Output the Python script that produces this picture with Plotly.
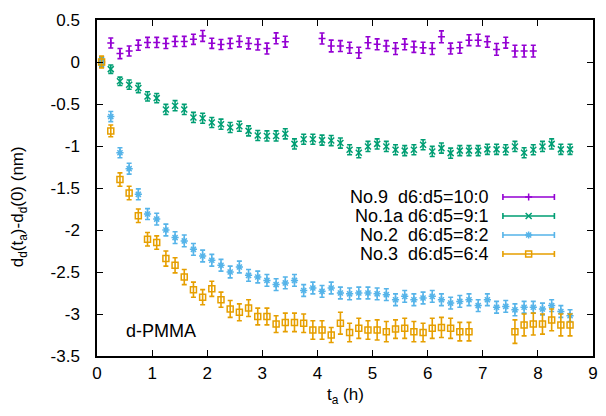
import plotly.graph_objects as go

# ---------------- data ----------------
minutes = [5, 15, 25, 35, 45, 55, 65, 75, 85, 95, 105, 115, 125, 135, 145, 155, 165, 175,
           185, 195, 205, 215, 225, 235, 245, 255, 265, 275, 285, 295, 305, 315, 325, 335,
           345, 355, 365, 375, 385, 395, 405, 415, 425, 435, 445, 455, 465, 475, 485, 495,
           505, 515]
hours = [m / 60 for m in minutes]

no9 = [0.0, 0.226, 0.100, 0.131, 0.200, 0.233, 0.233, 0.221, 0.245, 0.245, 0.270, 0.310,
       0.222, 0.208, 0.221, 0.245, 0.221, 0.208, 0.160, 0.282, 0.242,
       None, None, None,
       0.28, 0.19, 0.19, 0.17, 0.11, 0.23, 0.21, 0.19, 0.16, 0.21, 0.18, 0.17, 0.16, 0.30,
       0.16, 0.17, 0.26, 0.26, 0.24, 0.15, 0.23, 0.13, 0.13, 0.13,
       None, None, None, None]
no9_err = [0.06, 0.06, 0.06, 0.06, 0.06, 0.06, 0.06, 0.06, 0.06, 0.06, 0.06,
           0.065, 0.06, 0.06, 0.06, 0.065, 0.065, 0.065, 0.065, 0.065, 0.065,
           0.065, 0.065, 0.065, 0.065, 0.07, 0.065, 0.065, 0.065, 0.07, 0.065,
           0.065, 0.07, 0.065, 0.065, 0.065, 0.07, 0.07, 0.065, 0.065, 0.065,
           0.07, 0.065, 0.07, 0.065, 0.07, 0.07, 0.07, 0.07, 0.07, 0.07, 0.07]

no1a = [0.0, -0.085, -0.23, -0.27, -0.31, -0.41, -0.43, -0.565, -0.52, -0.565, -0.66,
        -0.67, -0.72, -0.74, -0.78, -0.765, -0.82, -0.875, -0.88, -0.88, -0.855, -0.975,
        -0.92, -0.92, -0.93, -0.935, -0.965, -1.045, -1.08, -1.005, -0.975, -1.005, -1.045,
        -1.055, -1.045, -0.985, -1.065, -1.025, -1.085, -1.055, -1.055, -1.055, -1.04,
        -1.04, -1.045, -1.005, -1.08, -1.045, -1.005, -0.975, -1.04, -1.04]
no1a_err = [0.05, 0.05, 0.05, 0.055, 0.055, 0.055, 0.055, 0.06, 0.06, 0.06, 0.06, 0.06,
            0.06, 0.06, 0.06, 0.06, 0.06, 0.06, 0.06, 0.06, 0.06, 0.06, 0.06, 0.06, 0.06,
            0.06, 0.06, 0.06, 0.06, 0.06, 0.06, 0.06, 0.06, 0.06, 0.06, 0.06, 0.06, 0.06,
            0.06, 0.06, 0.06, 0.06, 0.06, 0.06, 0.06, 0.06, 0.06, 0.06, 0.06, 0.06, 0.06,
            0.06]

no2 = [0.0, -0.65, -1.08, -1.27, -1.575, -1.81, -1.87, -2.0, -2.09, -2.13, -2.23, -2.31,
       -2.36, -2.42, -2.50, -2.44, -2.54, -2.56, -2.60, -2.65, -2.63, -2.60,
       -2.72, -2.69, -2.73, -2.69, -2.75, -2.76, -2.75, -2.75, -2.76, -2.77, -2.83, -2.79,
       -2.83, -2.81, -2.79, -2.83, -2.87, -2.85, -2.83, -2.90, -2.83, -2.92, -2.91, -2.95,
       -2.92, -2.92, -2.94, -2.90, -2.97, -3.02]
no2_err = [0.06, 0.06, 0.06, 0.065, 0.065, 0.065, 0.07, 0.07, 0.07, 0.07, 0.07, 0.07,
           0.07, 0.07, 0.07, 0.07, 0.07, 0.07, 0.07, 0.07, 0.07, 0.07, 0.07, 0.07, 0.07,
           0.07, 0.07, 0.07, 0.07, 0.07, 0.07, 0.07, 0.07, 0.07, 0.07, 0.07, 0.07, 0.07,
           0.07, 0.07, 0.07, 0.07, 0.07, 0.07, 0.07, 0.07, 0.07, 0.07, 0.07, 0.07, 0.07,
           0.07]

no3 = [0.0, -0.82, -1.40, -1.56, -1.83, -2.11, -2.15, -2.34, -2.42, -2.56, -2.71, -2.80,
       -2.70, -2.83, -2.94, -2.98, -2.93, -3.03, -3.03, -3.12, -3.10, -3.10,
       -3.11, -3.19, -3.19, -3.25, -3.11, -3.22, -3.17, -3.19, -3.19, -3.21, -3.18, -3.17,
       -3.21, -3.22, -3.17, -3.16, -3.17, -3.21, -3.21,
       None, None, None, None,
       -3.21, -3.13, -3.12, -3.12, -3.07, -3.13, -3.13]
no3_err = [0.07, 0.07, 0.08, 0.08, 0.08, 0.08, 0.08, 0.09, 0.09, 0.09, 0.09, 0.09, 0.09,
           0.09, 0.1, 0.1, 0.1, 0.1, 0.1, 0.1, 0.11, 0.11, 0.11, 0.11, 0.11, 0.09, 0.13,
           0.11, 0.12, 0.11, 0.12, 0.12, 0.11, 0.12, 0.12, 0.11, 0.12, 0.12, 0.12, 0.11,
           0.11, 0.11, 0.11, 0.11, 0.11, 0.14, 0.13, 0.13, 0.12, 0.13, 0.13, 0.13]

labels = ["No.9  d6:d5=10:0", "No.1a d6:d5=9:1", "No.2  d6:d5=8:2", "No.3  d6:d5=6:4"]
series = [no9, no1a, no2, no3]
errors = [no9_err, no1a_err, no2_err, no3_err]

x_ticks = [0, 1, 2, 3, 4, 5, 6, 7, 8, 9]
y_ticks = [-3.5, -3, -2.5, -2, -1.5, -1, -0.5, 0, 0.5]
y_ticklabels = ["-3.5", "-3", "-2.5", "-2", "-1.5", "-1", "-0.5", "0", "0.5"]

# ---------------- style ----------------
colors = ["#9400D3", "#009E73", "#56B4E9", "#E69F00"]
symbols = ["cross-thin", "x-thin", "asterisk-open", "square-open"]
msizes = [5, 6, 6, 6]
FONT = "Liberation Sans, Arial, Helvetica, sans-serif"

W, H = 606, 416
L, R, T, B = 97, 8, 20, 60
PW, PH = W - L - R, H - T - B

fig = go.Figure()

for vals, errs, col, sym, ms in zip(series, errors, colors, symbols, msizes):
    fig.add_trace(go.Scatter(
        x=hours, y=vals, mode="markers",
        marker=dict(symbol=sym, size=ms, color=col, line=dict(width=1.5, color=col)),
        error_y=dict(type="data", array=errs, visible=True, color=col,
                     thickness=1.6, width=2.5),
        showlegend=False, hoverinfo="skip"))

# custom gnuplot-style key (text right aligned, sample on the right)
key_text_x = (495 - L) / PW
key_sample_x = (533 - L) / PW
key_half = 26 / PW
key_rows_px = [197, 216, 235, 254]
for lab, col, sym, ms, ypx in zip(labels, colors, symbols, msizes, key_rows_px):
    yf = (H - B - ypx) / PH
    fig.add_trace(go.Scatter(
        x=[key_sample_x], y=[yf], mode="markers", xaxis="x2", yaxis="y2",
        marker=dict(symbol=sym, size=ms, color=col, line=dict(width=1.5, color=col)),
        error_x=dict(type="data", array=[key_half], visible=True, color=col,
                     thickness=1.6, width=3),
        showlegend=False, hoverinfo="skip"))
    fig.add_annotation(x=key_text_x, y=yf, xref="paper", yref="paper",
                       text=lab.replace("  ", "&nbsp;&nbsp;"), showarrow=False,
                       xanchor="right", yanchor="middle",
                       font=dict(family=FONT, size=18, color="black"))

fig.add_annotation(x=(124 - L) / PW, y=(H - B - 331) / PH,
                   xref="paper", yref="paper", text="d-PMMA", showarrow=False,
                   xanchor="left", yanchor="middle",
                   font=dict(family=FONT, size=18, color="black"))

fig.add_annotation(x=(19 - L) / PW, y=0.445, xref="paper", yref="paper",
                   text="d<sub>d</sub>(t<sub>a</sub>)-d<sub>d</sub>(0) (nm)",
                   showarrow=False, textangle=-90, xanchor="center", yanchor="middle",
                   font=dict(family=FONT, size=17, color="black"))
fig.add_annotation(x=0.5, y=(H - B - 396) / PH, xref="paper", yref="paper",
                   text="t<sub>a</sub> (h)", showarrow=False,
                   xanchor="center", yanchor="middle",
                   font=dict(family=FONT, size=17, color="black"))

axis_common = dict(showgrid=False, zeroline=False, showline=True, linecolor="black",
                   linewidth=1.5, ticks="inside", ticklen=6, tickwidth=1.2,
                   tickcolor="black", mirror="allticks",
                   tickfont=dict(family=FONT, size=17, color="black"))

fig.update_layout(
    width=W, height=H, margin=dict(l=L, r=R, t=T, b=B),
    paper_bgcolor="white", plot_bgcolor="white",
    xaxis=dict(range=[0, 9], tickvals=x_ticks, ticklabelstandoff=1, **axis_common),
    yaxis=dict(range=[-3.5, 0.5], tickvals=y_ticks, ticktext=y_ticklabels,
               ticklabelstandoff=12, **axis_common),
    xaxis2=dict(range=[0, 1], overlaying="x", anchor="y2", visible=False),
    yaxis2=dict(range=[0, 1], overlaying="y", anchor="x2", visible=False),
    showlegend=False,
)

fig.write_html("out.html", config={"displayModeBar": False},
               post_script="document.body.style.margin='0';")
